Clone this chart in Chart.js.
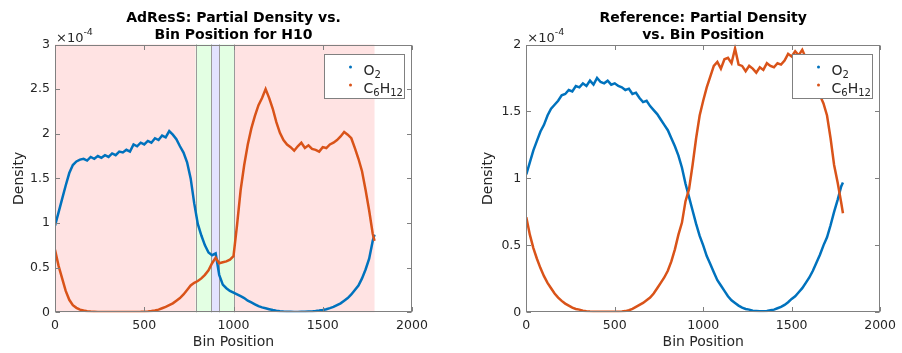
<!DOCTYPE html>
<html>
<head>
<meta charset="utf-8">
<script src="https://cdn.jsdelivr.net/npm/chart.js@4.4.1/dist/chart.umd.min.js"></script>
<style>
  body { margin: 0; background: #fff; }
  #wrap { display: flex; width: 902px; height: 353px; }
  canvas { display: block; }
</style>
</head>
<body>
<div id="wrap">
  <canvas id="adress" width="451" height="353"></canvas>
  <canvas id="reference" width="451" height="353"></canvas>
</div>
<script>
// bin positions (sampled every 20 bins)
const bins = [0,20,40,60,80,100,120,140,160,180,
  200,220,240,260,280,300,320,340,360,380,
  400,420,440,460,480,500,520,540,560,580,
  600,620,640,660,680,700,720,740,760,780,
  800,820,840,860,880,900,920,940,960,980,
  1000,1020,1040,1060,1080,1100,1120,1140,1160,1180,
  1200,1220,1240,1260,1280,1300,1320,1340,1360,1380,
  1400,1420,1440,1460,1480,1500,1520,1540,1560,1580,
  1600,1620,1640,1660,1680,1700,1720,1740,1760,1780,
  1790];

// partial densities, in units of 1e-4
const adressO2 = [0.97,1.12,1.27,1.42,1.56,1.65,1.69,1.71,1.72,1.70,
  1.74,1.72,1.75,1.73,1.76,1.74,1.78,1.76,1.80,1.79,
  1.82,1.80,1.88,1.86,1.90,1.88,1.92,1.90,1.95,1.93,
  1.98,1.96,2.03,1.99,1.94,1.86,1.79,1.68,1.50,1.22,
  0.99,0.86,0.75,0.67,0.64,0.66,0.42,0.31,0.27,0.24,
  0.22,0.20,0.18,0.16,0.13,0.11,0.09,0.07,0.055,0.045,
  0.035,0.025,0.018,0.012,0.008,0.006,0.005,0.004,0.004,0.005,
  0.006,0.008,0.010,0.014,0.019,0.026,0.035,0.047,0.06,0.08,
  0.10,0.13,0.16,0.20,0.25,0.30,0.38,0.48,0.60,0.80,
  0.87];
const adressC6H12 = [0.70,0.52,0.38,0.24,0.14,0.08,0.05,0.03,0.02,0.012,
  0.008,0.006,0.004,0.003,0.003,0.002,0.002,0.002,0.002,0.002,
  0.002,0.003,0.003,0.004,0.005,0.007,0.010,0.014,0.02,0.03,
  0.045,0.06,0.08,0.10,0.13,0.16,0.20,0.25,0.30,0.33,
  0.35,0.38,0.42,0.47,0.55,0.61,0.55,0.56,0.57,0.59,
  0.63,0.98,1.37,1.65,1.88,2.06,2.20,2.32,2.40,2.50,
  2.40,2.28,2.13,2.01,1.93,1.88,1.85,1.81,1.86,1.90,
  1.84,1.87,1.83,1.82,1.80,1.85,1.84,1.88,1.90,1.93,
  1.97,2.02,1.99,1.95,1.84,1.72,1.58,1.37,1.14,0.88,
  0.80];
const refO2 = [1.03,1.12,1.21,1.28,1.35,1.40,1.47,1.52,1.55,1.58,
  1.62,1.63,1.66,1.65,1.69,1.68,1.71,1.69,1.73,1.70,
  1.75,1.72,1.71,1.73,1.70,1.71,1.69,1.68,1.66,1.67,
  1.63,1.64,1.60,1.57,1.58,1.54,1.51,1.48,1.44,1.40,
  1.36,1.30,1.24,1.17,1.08,0.96,0.86,0.76,0.66,0.57,
  0.50,0.42,0.36,0.30,0.24,0.20,0.16,0.12,0.09,0.07,
  0.05,0.035,0.025,0.02,0.012,0.01,0.008,0.008,0.01,0.015,
  0.02,0.03,0.04,0.055,0.075,0.10,0.12,0.15,0.18,0.22,
  0.26,0.31,0.37,0.43,0.50,0.56,0.65,0.75,0.84,0.94,
  0.97];
const refC6H12 = [0.71,0.58,0.48,0.40,0.33,0.27,0.22,0.18,0.14,0.11,
  0.085,0.065,0.05,0.035,0.025,0.02,0.012,0.008,0.006,0.005,
  0.004,0.004,0.004,0.004,0.004,0.004,0.005,0.006,0.009,0.015,
  0.025,0.04,0.055,0.07,0.09,0.11,0.14,0.18,0.22,0.26,
  0.31,0.38,0.47,0.58,0.67,0.83,0.92,1.10,1.30,1.47,
  1.58,1.68,1.76,1.84,1.87,1.82,1.89,1.90,1.86,1.97,
  1.85,1.84,1.80,1.84,1.82,1.79,1.83,1.81,1.86,1.84,
  1.83,1.86,1.85,1.88,1.93,1.91,1.95,1.92,1.96,1.90,
  1.87,1.78,1.70,1.62,1.56,1.47,1.30,1.10,0.97,0.82,
  0.74];

// AdResS zones: edges and kind (coarse-grained / hybrid / atomistic)
const zoneEdges = [0, 788, 876, 920, 1004, 1790];
const zoneKinds = ['cg', 'hy', 'at', 'hy', 'cg'];
const zoneFill = { cg: '#ffe3e3', hy: '#e3ffe3', at: '#e3e3ff' };

const xTicks = [0, 500, 1000, 1500, 2000];

const O2_COLOR = '#0072bd';
const C6_COLOR = '#d95319';
const AXIS_COLOR = '#262626';

Chart.defaults.font.family = '"DejaVu Sans", sans-serif';
Chart.defaults.color = AXIS_COLOR;

function pts(vals) {
  return bins.map((b, i) => ({ x: b, y: vals[i] }));
}

// draws title, box, inward ticks, exponent, legend and shaded zones
const decor = {
  id: 'decor',
  beforeDatasetsDraw(chart, args, o) {
    if (!o.zones) return;
    const { ctx, chartArea: a, scales: { x } } = chart;
    ctx.save();
    for (let i = 0; i < zoneKinds.length; i++) {
      const x0 = x.getPixelForValue(zoneEdges[i]);
      const x1 = x.getPixelForValue(zoneEdges[i + 1]);
      ctx.fillStyle = zoneFill[zoneKinds[i]];
      ctx.fillRect(x0, a.top, x1 - x0, a.bottom - a.top);
    }
    ctx.strokeStyle = '#9a9a9a';
    ctx.lineWidth = 1;
    for (let i = 1; i < zoneEdges.length - 1; i++) {
      const px = Math.round(x.getPixelForValue(zoneEdges[i])) + 0.5;
      ctx.beginPath();
      ctx.moveTo(px, a.top);
      ctx.lineTo(px, a.bottom);
      ctx.stroke();
    }
    ctx.restore();
  },
  afterDatasetsDraw(chart, args, o) {
    const { ctx, chartArea: a, scales: { x, y } } = chart;
    ctx.save();
    // box
    ctx.strokeStyle = '#808080';
    ctx.lineWidth = 1;
    const L = Math.round(a.left) + 0.5, R = Math.round(a.right) - 0.5;
    const T = Math.round(a.top) + 0.5, B = Math.round(a.bottom) - 0.5;
    ctx.strokeRect(L, T, R - L, B - T);
    // inward ticks
    const tl = 4.5;
    ctx.beginPath();
    x.ticks.forEach(t => {
      const px = Math.round(x.getPixelForValue(t.value)) + 0.5;
      ctx.moveTo(px, B); ctx.lineTo(px, B - tl);
      ctx.moveTo(px, T); ctx.lineTo(px, T + tl);
    });
    y.ticks.forEach(t => {
      const py = Math.round(y.getPixelForValue(t.value)) + 0.5;
      ctx.moveTo(L, py); ctx.lineTo(L + tl, py);
      ctx.moveTo(R, py); ctx.lineTo(R - tl, py);
    });
    ctx.stroke();

    // title
    ctx.fillStyle = '#000';
    ctx.font = 'bold 14px "DejaVu Sans"';
    ctx.textAlign = 'center';
    ctx.textBaseline = 'alphabetic';
    const cx = (a.left + a.right) / 2;
    ctx.fillText(o.title[0], cx, 21.7);
    ctx.fillText(o.title[1], cx, 39.3);

    // exponent label
    ctx.textAlign = 'left';
    ctx.fillStyle = AXIS_COLOR;
    ctx.font = '13px "DejaVu Sans"';
    const ex = a.left + 1;
    ctx.fillText('\u00d710', ex, 42);
    const w10 = ctx.measureText('\u00d710').width;
    ctx.font = '9.5px "DejaVu Sans"';
    ctx.fillText('-4', ex + w10, 35);

    // legend
    const bw = 80, bh = 44;
    const bx = Math.round(a.right - 8 - bw) + 0.5, by = Math.round(a.top + 9.5) + 0.5;
    ctx.fillStyle = '#fff';
    ctx.fillRect(bx, by, bw, bh);
    ctx.strokeStyle = '#808080';
    ctx.strokeRect(bx, by, bw, bh);
    const items = [
      { color: O2_COLOR, parts: [['O', 0], ['2', 1]] },
      { color: C6_COLOR, parts: [['C', 0], ['6', 1], ['H', 0], ['12', 1]] }
    ];
    items.forEach((it, k) => {
      const base = by + 20 + k * 18;
      ctx.fillStyle = it.color;
      ctx.beginPath();
      ctx.arc(bx + 26, base - 7.5, 1.5, 0, Math.PI * 2);
      ctx.fill();
      ctx.fillStyle = AXIS_COLOR;
      let tx = bx + 39;
      it.parts.forEach(([s, sub]) => {
        ctx.font = sub ? '10px "DejaVu Sans"' : '14px "DejaVu Sans"';
        ctx.fillText(s, tx, sub ? base + 3 : base);
        tx += ctx.measureText(s).width;
      });
    });
    ctx.restore();
  }
};

function makeChart(id, o2, c6, yMax, title, yAxisW, padRight, yTitlePad, withZones) {
  const ctx = document.getElementById(id).getContext('2d');
  return new Chart(ctx, {
    type: 'line',
    data: {
      datasets: [
        { label: 'O2', data: pts(o2), borderColor: O2_COLOR, borderWidth: 2.5, pointRadius: 0, order: 2 },
        { label: 'C6H12', data: pts(c6), borderColor: C6_COLOR, borderWidth: 2.5, pointRadius: 0, order: 1 }
      ]
    },
    options: {
      responsive: false,
      animation: false,
      layout: { padding: { left: 0, right: padRight, top: 44.5, bottom: 0 } },
      plugins: {
        legend: { display: false },
        tooltip: { enabled: false },
        decor: { title: title, zones: withZones }
      },
      scales: {
        x: {
          type: 'linear',
          min: 0, max: 2000,
          afterBuildTicks: s => { s.ticks = xTicks.map(v => ({ value: v })); },
          afterFit: s => { s.height = 40.7; },
          grid: { display: false, drawTicks: false },
          border: { display: false },
          ticks: { padding: 6, font: { size: 12.5 }, color: AXIS_COLOR, callback: v => String(v) },
          title: { display: true, text: 'Bin Position', font: { size: 14 }, color: AXIS_COLOR, padding: { top: 0, bottom: 2 } }
        },
        y: {
          min: 0, max: yMax,
          afterFit: s => { s.width = yAxisW; },
          grid: { display: false, drawTicks: false },
          border: { display: false },
          ticks: { stepSize: 0.5, padding: 5, font: { size: 12.5 }, color: AXIS_COLOR, callback: v => String(v) },
          title: { display: true, text: 'Density', font: { size: 14 }, color: AXIS_COLOR, padding: { top: yTitlePad, bottom: 0 } }
        }
      }
    },
    plugins: [decor]
  });
}

makeChart('adress', adressO2, adressC6H12, 3,
  ['AdResS: Partial Density vs.', 'Bin Position for H10'], 55, 39, 10.6, true);
makeChart('reference', refO2, refC6H12, 2,
  ['Reference: Partial Density', 'vs. Bin Position'], 75.3, 19.3, 28.6, false);
</script>
</body>
</html>
